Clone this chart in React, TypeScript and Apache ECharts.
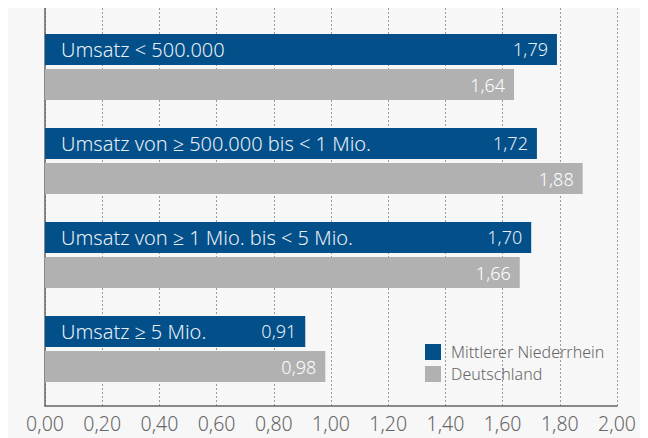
import React, { useEffect, useRef } from "react";
import * as echarts from "echarts";

const categories = [
  "Umsatz < 500.000",
  "Umsatz von ≥ 500.000 bis < 1 Mio.",
  "Umsatz von ≥ 1 Mio. bis < 5 Mio.",
  "Umsatz ≥ 5 Mio.",
];
const niederrhein = [1.79, 1.72, 1.7, 0.91];
const deutschland = [1.64, 1.88, 1.66, 0.98];
const seriesNames = ["Mittlerer Niederrhein", "Deutschland"];

const BLUE = "#024f8a";
const GRAY = "#b1b1b1";
const FONT = "Noto Sans";
const W = 300;
const fmt = (v: number) => v.toFixed(2).replace(".", ",");

export default function App() {
  const ref = useRef<HTMLDivElement>(null);
  useEffect(() => {
    if (!ref.current) return;
    const chart = echarts.init(ref.current, undefined, { renderer: "svg" });
    const barCommon = {
      type: "bar" as const,
      barWidth: 31,
      barGap: "13%",
    };
    chart.setOption({
      animation: false,
      backgroundColor: "#f7f7f7",
      textStyle: { fontFamily: FONT },
      grid: [
        { left: 37, right: 39, top: 0, bottom: 40 },
        { left: 37, right: 39, top: 12, bottom: 50 },
        { left: 37, right: 39, top: 12, bottom: 50 },
      ],
      xAxis: [
        {
          gridIndex: 0,
          type: "value",
          min: 0,
          max: 2,
          interval: 0.2,
          axisLine: { show: true, lineStyle: { color: "#666", width: 1.5 } },
          axisTick: { show: false },
          splitLine: { show: true, lineStyle: { color: "#9a9a9a", type: [2, 2], width: 1 } },
          axisLabel: {
            formatter: (v: number) => fmt(v),
            color: "#666",
            fontSize: 19.5,
            fontWeight: W,
            fontFamily: FONT,
            margin: 7,
          },
        },
        { gridIndex: 1, type: "value", min: 0, max: 2, show: false },
        { gridIndex: 2, type: "value", min: 0, max: 2, show: false },
      ],
      yAxis: [
        {
          gridIndex: 0,
          type: "category",
          data: [""],
          axisLine: { show: true, lineStyle: { color: "#666", width: 1.5 } },
          axisTick: { show: false },
          axisLabel: { show: false },
        },
        { gridIndex: 1, type: "category", data: categories, inverse: true, show: false },
        { gridIndex: 2, type: "category", data: categories, inverse: true, show: false },
      ],
      legend: {
        orient: "vertical",
        left: 417,
        top: 336,
        padding: 0,
        itemWidth: 16,
        itemHeight: 16,
        itemGap: 6,
        icon: "rect",
        data: seriesNames,
        textStyle: {
          color: "#666",
          fontSize: 16,
          fontWeight: W,
          fontFamily: FONT,
          padding: [0, 0, 0, 5],
        },
      },
      series: [
        {
          ...barCommon,
          name: seriesNames[0],
          xAxisIndex: 1,
          yAxisIndex: 1,
          data: niederrhein,
          itemStyle: { color: BLUE },
          label: {
            show: true,
            position: "insideRight",
            distance: 9,
            color: "#e8eef5",
            fontSize: 18,
            fontWeight: W,
            fontFamily: FONT,
            formatter: (p: any) => fmt(p.value),
          },
        },
        {
          ...barCommon,
          name: seriesNames[1],
          xAxisIndex: 1,
          yAxisIndex: 1,
          data: deutschland,
          itemStyle: { color: GRAY },
          label: {
            show: true,
            position: "insideRight",
            distance: 9,
            color: "#ffffff",
            fontSize: 18,
            fontWeight: W,
            fontFamily: FONT,
            formatter: (p: any) => fmt(p.value),
          },
        },
        {
          ...barCommon,
          name: "labels",
          xAxisIndex: 2,
          yAxisIndex: 2,
          data: niederrhein,
          itemStyle: { color: "rgba(0,0,0,0)" },
          label: {
            show: true,
            position: "insideLeft",
            distance: 16,
            color: "#e8eef5",
            fontSize: 20,
            fontWeight: W,
            fontFamily: FONT,
            formatter: (p: any) => p.name,
          },
          silent: true,
        },
        {
          ...barCommon,
          name: "dummy",
          xAxisIndex: 2,
          yAxisIndex: 2,
          data: deutschland,
          itemStyle: { color: "rgba(0,0,0,0)" },
          silent: true,
        },
      ],
    });
    return () => chart.dispose();
  }, []);
  return <div ref={ref} style={{ width: 648, height: 438 }} />;
}
